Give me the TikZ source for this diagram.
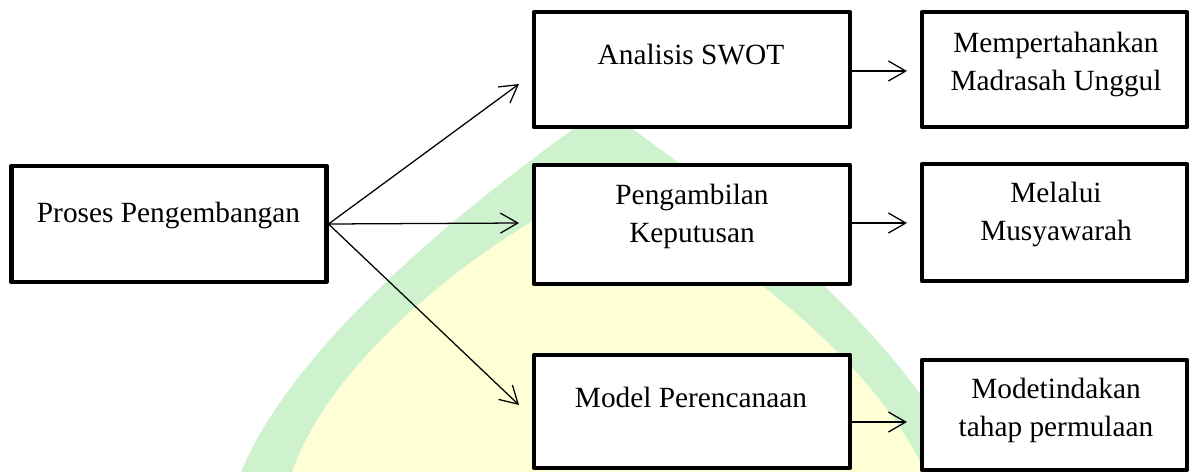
\documentclass[tikz,border=0pt]{standalone}
\usepackage{fontspec}
\setmainfont{Liberation Serif}
\usetikzlibrary{arrows.meta}
\definecolor{wmgreen}{RGB}{205,242,205}
\definecolor{wmyellow}{RGB}{255,255,214}
\begin{document}
\begin{tikzpicture}[x=0.75pt,y=-0.75pt,
  box/.style={draw=black, line width=3.4pt, line join=round, fill=white,
    inner sep=0pt, minimum width=237pt},
  rbox/.style={box, minimum width=198.75pt},
  txt/.style={font=\fontsize{22}{28.5}\selectfont, align=center,
    anchor=base, inner sep=0pt},
  arr/.style={line width=0.95pt, -{Straight Barb[length=13pt,width=15pt]}}]
\useasboundingbox (0,0) rectangle (1190,472);

% background emblem: green arch band over a pale yellow field
\fill[wmyellow] (292,472) .. controls (330,360) and (480,240) .. (600,185)
  .. controls (720,240) and (875,360) .. (925,472) -- cycle;
\fill[wmgreen, even odd rule]
  (241,472) .. controls (300,330) and (500,180) .. (603,108)
  .. controls (706,180) and (906,330) .. (965,472) -- cycle
  (292,472) .. controls (330,360) and (480,240) .. (600,185)
  .. controls (720,240) and (875,360) .. (925,472) -- cycle;

% boxes
\node[box, minimum width=236.25pt, minimum height=87pt] (A) at (168.75,224) {};
\node[box, minimum height=86.25pt] (B) at (692,69.5) {};
\node[box, minimum height=89.25pt] (C) at (692,224.5) {};
\node[box, minimum height=84.75pt] (D) at (692,411.5) {};
\node[rbox, minimum height=86.25pt] (E) at (1054.5,69.5) {};
\node[rbox, minimum height=87.75pt] (F) at (1054.5,222.5) {};
\node[rbox, minimum height=82.5pt] (G) at (1054.5,415) {};

% labels (two-line labels are placed by the baseline of their last line)
\node[txt] (tA) at (168.5,222) {Proses Pengembangan};
\node[txt] (tB) at (691,64) {Analisis SWOT};
\node[txt] (tC) at (692,242) {Pengambilan\\Keputusan};
\node[txt] (tD) at (691,407) {Model Perencanaan};
\node[txt] (tE) at (1056,90) {Mempertahankan\\Madrasah Unggul};
\node[txt] (tF) at (1056,240.5) {Melalui\\Musyawarah};
\node[txt] (tG) at (1056,436) {Modetindakan\\tahap permulaan};

% arrow ends
\coordinate (pB) at (519,84);
\coordinate (pC) at (519,223);
\coordinate (pD) at (519,405);
\coordinate (qE) at (907,71);
\coordinate (qF) at (907,223);
\coordinate (qG) at (907,422);

% connectors
\draw[arr] (A.east) -- (pB);
\draw[arr] (A.east) -- (pC);
\draw[arr] (A.east) -- (pD);
\draw[arr] (B.east |- qE) -- (qE);
\draw[arr] (C.east |- qF) -- (qF);
\draw[arr] (D.east |- qG) -- (qG);
\end{tikzpicture}
\end{document}
